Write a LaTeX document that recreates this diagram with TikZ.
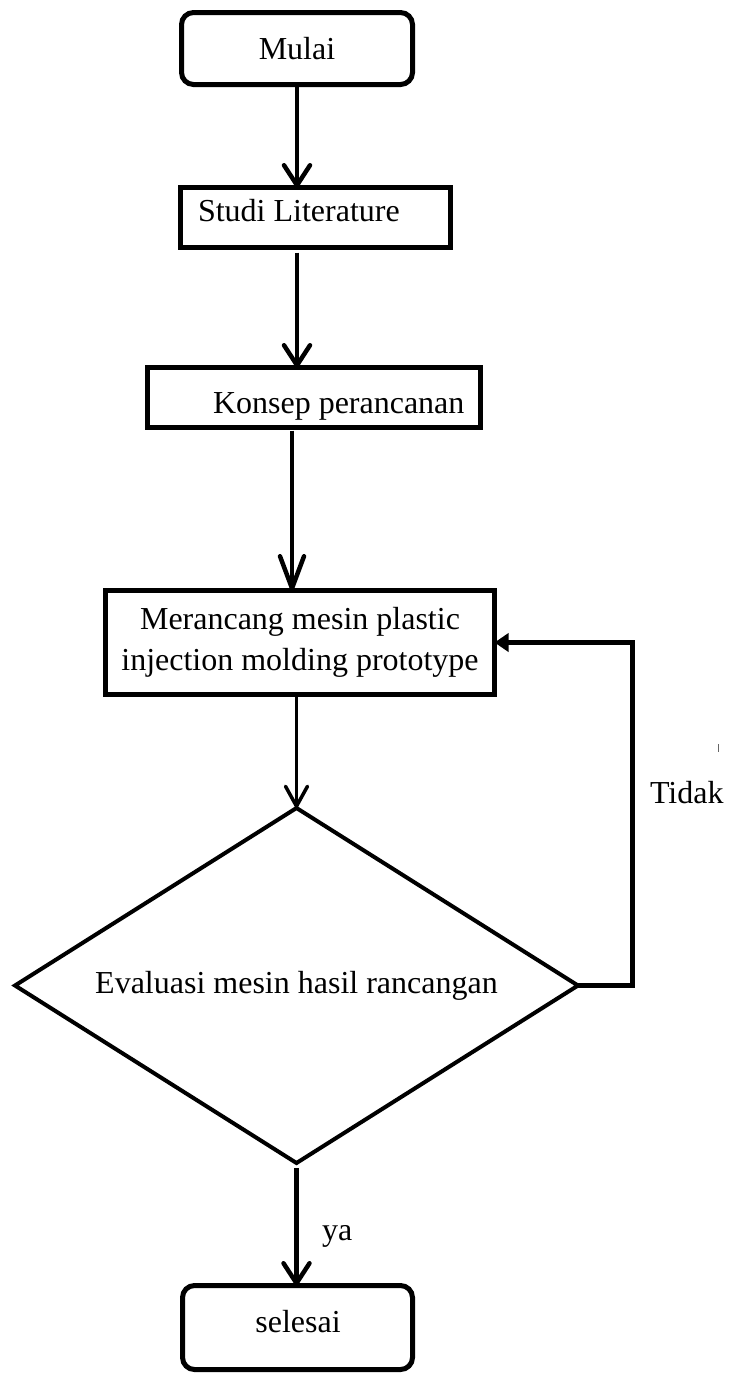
\documentclass[tikz,border=0pt]{standalone}
\usepackage{fontspec}
\setmainfont{Liberation Serif}
\usetikzlibrary{arrows.meta,shapes.geometric,calc}
\begin{document}
\begin{tikzpicture}[x=1pt,y=-1pt,
  every node/.style={font=\fontsize{32}{41}\selectfont, outer sep=0pt},
  box/.style={draw, line width=5pt, inner sep=0pt},
  rbox/.style={box, rounded corners=12pt},
  plain/.style={inner sep=0pt},
  arr/.style={line width=4.5pt, -{Straight Barb[round,length=20pt,width=26pt]}},
  arrlong/.style={line width=4.5pt, -{Straight Barb[round,length=32pt,width=24pt]}},
  arrthin/.style={line width=3.5pt, -{Straight Barb[round,length=20pt,width=22pt]}},
  fb/.style={line width=5pt, line join=miter, -{Triangle[length=14pt,width=18pt]}}
]
\useasboundingbox (0,0) rectangle (730,1374);

\node[rbox, minimum width=231pt, minimum height=72pt] (mulai) at (297,48.5) {Mulai};

\node[box, minimum width=270pt, minimum height=60pt] (studi) at (315.5,217.5) {};
\node[plain, anchor=base west] (studitxt) at (198,221) {Studi Literature};

\node[box, minimum width=333pt, minimum height=60pt] (konsep) at (314,397.5) {};
\node[plain, anchor=base west] (konseptxt) at (213,413) {Konsep perancanan};

\node[box, minimum width=389pt, minimum height=104pt, align=center] (merancang) at (300,642.5)
  {Merancang mesin plastic\\injection molding prototype};

\node[diamond, draw, line width=4pt, aspect=1.586, minimum width=563pt, minimum height=355pt, inner sep=0pt]
  (eval) at (296.5,985.5) {Evaluasi mesin hasil rancangan};

\node[rbox, minimum width=230pt, minimum height=84pt] (selesai) at (297.5,1327.5) {};
\node[plain, anchor=base] (selesaitxt) at (298,1332) {selesai};

\node[plain, anchor=base west] (tidak) at (650,803) {Tidak};
\node[plain, anchor=base west] (ya) at (322,1240) {ya};
\draw[line width=1pt, black!60] (718,744) -- (718,752);

\draw[arr] (mulai.south) -- (mulai.south |- studi.north);
\draw[arr, shorten <=5pt] (mulai.south |- studi.south) -- (mulai.south |- konsep.north);
\draw[arrlong, shorten <=3pt] ($(mulai.south |- konsep.south)+(-5,0)$) -- ($(mulai.south |- merancang.north)+(-5,0)$);
\draw[arrthin] (eval.north |- merancang.south) -- (eval.north);
\draw[arr] ($(eval.south)+(0,5)$) -- (eval.south |- selesai.north);
\draw[fb] (eval.east) -- ++(54,0) |- (merancang.east);
\end{tikzpicture}
\end{document}
